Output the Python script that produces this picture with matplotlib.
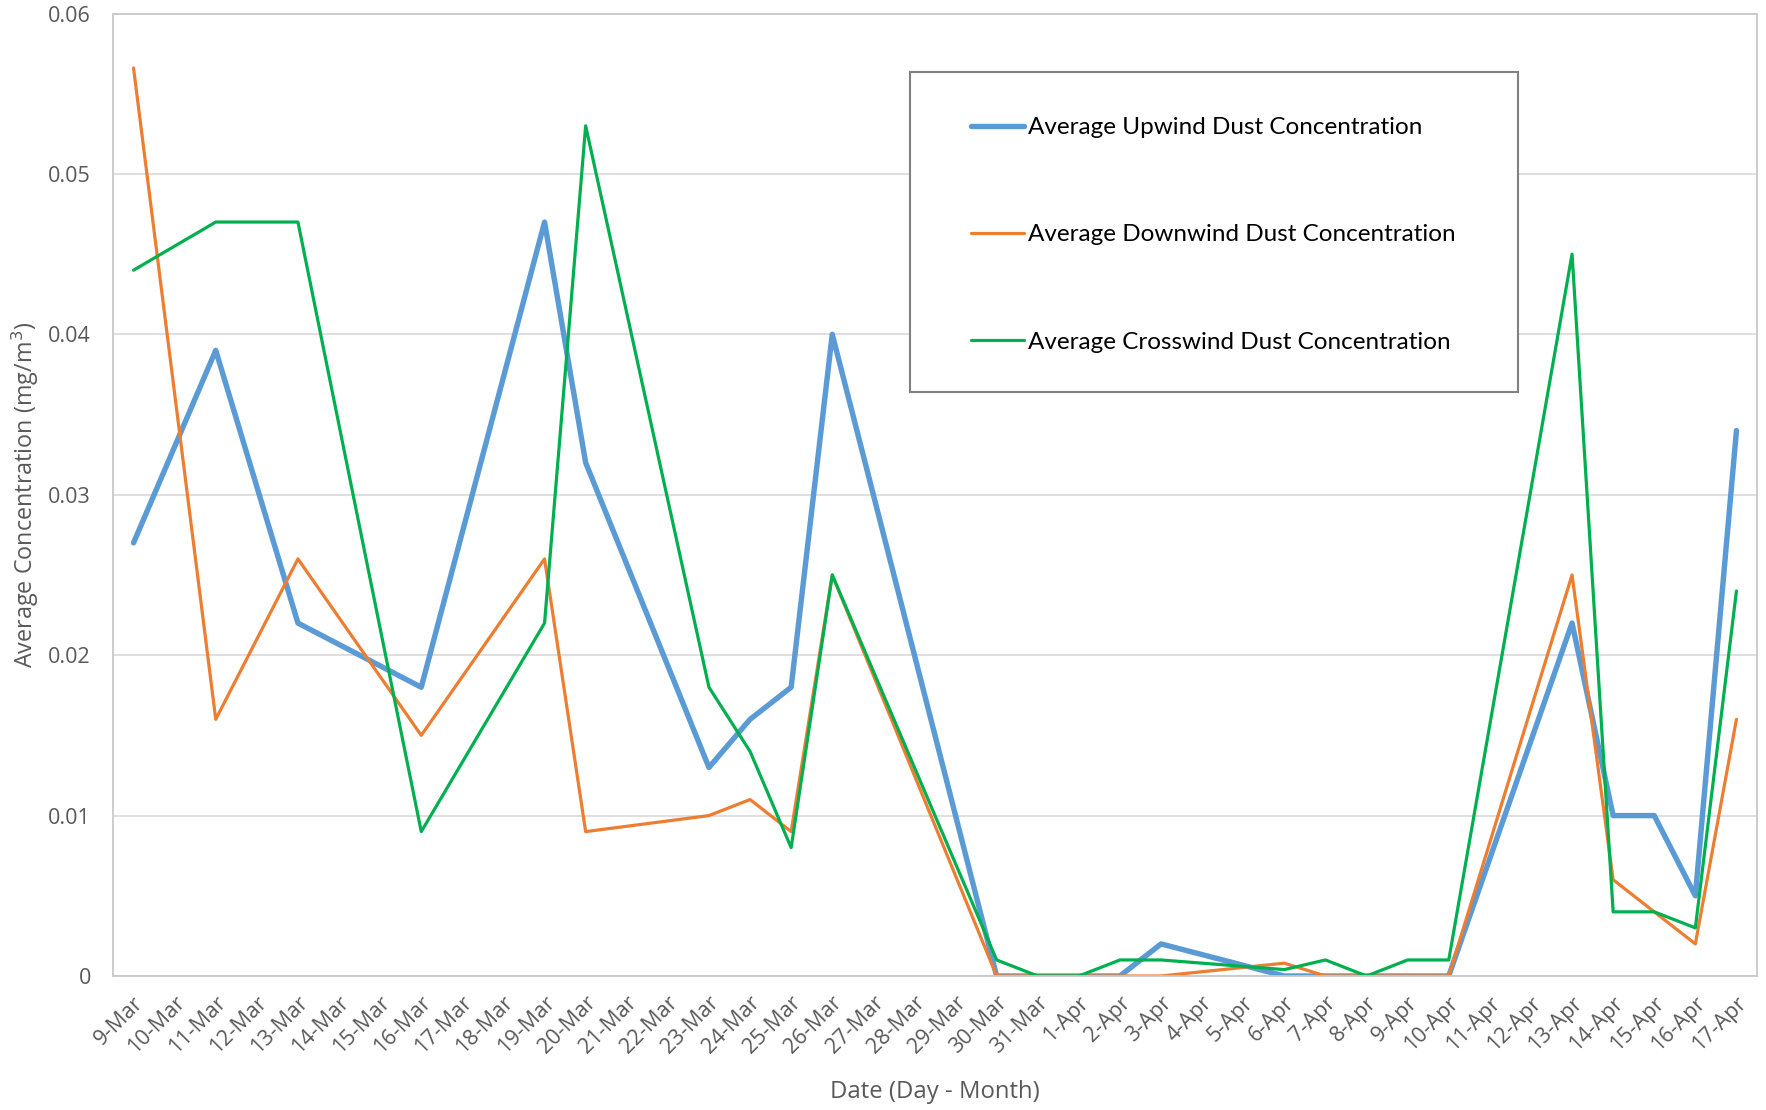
import matplotlib
matplotlib.use("Agg")
import matplotlib.pyplot as plt
from matplotlib.patches import Rectangle
from matplotlib.transforms import ScaledTranslation

# Every calendar day on the axis
day_labels = [f"{d}-Mar" for d in range(9, 32)] + [f"{d}-Apr" for d in range(1, 18)]

# Sampling dates and the averaged concentrations (mg/m3)
sample_dates = ["9-Mar", "11-Mar", "13-Mar", "16-Mar", "19-Mar", "20-Mar", "23-Mar",
                "24-Mar", "25-Mar", "26-Mar", "30-Mar", "31-Mar", "1-Apr", "2-Apr",
                "3-Apr", "6-Apr", "7-Apr", "8-Apr", "9-Apr", "10-Apr", "13-Apr",
                "14-Apr", "15-Apr", "16-Apr", "17-Apr"]
upwind = [0.027, 0.039, 0.022, 0.018, 0.047, 0.032, 0.013, 0.016, 0.018, 0.040,
          0.0, 0.0, 0.0, 0.0, 0.002, 0.0, 0.0, 0.0, 0.0, 0.0,
          0.022, 0.010, 0.010, 0.005, 0.034]
downwind = [0.0566, 0.016, 0.026, 0.015, 0.026, 0.009, 0.010, 0.011, 0.009, 0.025,
            0.0, 0.0, 0.0, 0.0, 0.0, 0.0008, 0.0, 0.0, 0.0, 0.0,
            0.025, 0.006, 0.004, 0.002, 0.016]
crosswind = [0.044, 0.047, 0.047, 0.009, 0.022, 0.053, 0.018, 0.014, 0.008, 0.025,
             0.001, 0.0, 0.0, 0.001, 0.001, 0.0004, 0.001, 0.0, 0.001, 0.001,
             0.045, 0.004, 0.004, 0.003, 0.024]
series_names = ["Average Upwind Dust Concentration",
                "Average Downwind Dust Concentration",
                "Average Crosswind Dust Concentration"]

W, H = 1766, 1110
fig = plt.figure(figsize=(W / 100, H / 100), dpi=100)
ax = fig.add_axes([113 / W, 1 - 976 / H, (1757 - 113) / W, (976 - 13.5) / H])

xs = [day_labels.index(d) for d in sample_dates]
styles = [("#5B9BD5", 3.9), ("#ED7D31", 2.3), ("#00B050", 2.3)]
for vals, name, (col, lw) in zip([upwind, downwind, crosswind], series_names, styles):
    ax.plot(xs, vals, color=col, lw=lw, label=name,
            solid_joinstyle="round", solid_capstyle="round")

ax.set_xlim(-0.5, len(day_labels) - 0.5)
ax.set_ylim(0, 0.06)
ax.set_yticks([0, 0.01, 0.02, 0.03, 0.04, 0.05, 0.06])
ax.set_yticklabels(["0", "0.01", "0.02", "0.03", "0.04", "0.05", "0.06"])
ax.set_xticks(range(len(day_labels)))
ax.set_xticklabels(day_labels, rotation=45, ha="right", rotation_mode="anchor", va="center")

ax.grid(axis="y", color="#D9D9D9", lw=1.2)
ax.set_axisbelow(True)
for s in ax.spines.values():
    s.set_color("#C8C8C8")
    s.set_linewidth(1.3)

font = "Open Sans"
ax.tick_params(axis="both", length=0, labelcolor="#595959", labelsize=15.5)
ax.tick_params(axis="y", pad=16)
ax.tick_params(axis="x", pad=17)
shift = ScaledTranslation(7 / 100, 0, fig.dpi_scale_trans)
for lab in ax.get_xticklabels():
    lab.set_family(font)
    lab.set_transform(lab.get_transform() + shift)
for lab in ax.get_yticklabels():
    lab.set_family(font)

ax.set_xlabel("Date (Day - Month)", family=font, fontsize=17.2, color="#595959", va="center")
ax.xaxis.set_label_coords(0.5, -0.1205)
ax.set_ylabel("Average Concentration (mg/m$^3$)", family=font, fontsize=16.8,
              color="#595959", va="center")
ax.yaxis.set_label_coords(-0.0535, 0.5)

# Legend entries placed inside a framed box
leg = fig.legend(loc="upper left", bbox_to_anchor=(971 / W, 1 - 117 / H),
                 frameon=False, borderpad=0, borderaxespad=0, labelspacing=3.55,
                 handlelength=2.2, handletextpad=0.16,
                 prop={"family": "Lato", "size": 17.5})
leg.set_zorder(6)
for t in leg.get_texts():
    t.set_color("black")
fig.patches.append(Rectangle((910 / W, 1 - 392 / H), (1518 - 910) / W, (392 - 72) / H,
                             transform=fig.transFigure, fill=True, facecolor="white",
                             edgecolor="#808080", lw=1.5, zorder=4))

fig.savefig("out.png", dpi=100)
